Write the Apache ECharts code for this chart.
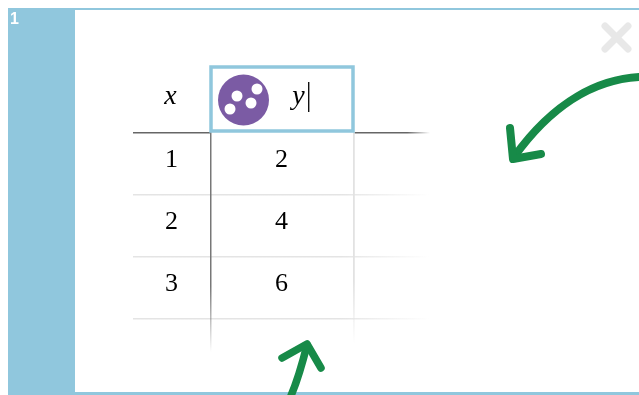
<!DOCTYPE html>
<html><head><meta charset="utf-8">
<style>html,body{margin:0;padding:0;background:#fff}#c{width:639px;height:395px}</style>
<script src="https://cdn.jsdelivr.net/npm/echarts@6/dist/echarts.min.js"></script>
</head><body><div id="c"></div>
<script>
const rows = ['header', 'r1', 'r2', 'r3'];
const columnX = ['x', 1, 2, 3];
const columnY = ['y', 2, 4, 6];
const panelNumber = '1';

const BLUE = '#90c7dd', GREEN = '#178a48', PURPLE = '#7b5ba4';
const FONT = '"Liberation Serif", serif';

function fade(axisX, from, to) {
  const g = axisX ? [1, 0] : [0, 1];
  return new echarts.graphic.LinearGradient(0, 0, g[0], g[1], [
    { offset: 0, color: from }, { offset: 0.7, color: from }, { offset: 1, color: to }]);
}
function rect(x, y, w, h, fill, z) { return { type: 'rect', shape: { x, y, width: w, height: h }, style: { fill }, z: z || 1 }; }
function stroke(pathShape, type, color, width, z) {
  return { type, shape: pathShape, style: { stroke: color, lineWidth: width, lineCap: 'round', lineJoin: 'round', fill: null }, z: z || 5 };
}
function dot(cx, cy) { return { type: 'circle', shape: { cx, cy, r: 5.5 }, style: { fill: '#fff' }, z: 7 }; }

const graphics = [
  rect(8, 8, 631, 387, BLUE, 0),
  rect(75, 10, 564, 382, '#fff', 0),
  { type: 'text', x: 10, y: 12, style: { text: panelNumber, fill: '#fff', font: 'bold 16px "Liberation Sans", Arial' }, z: 2 },
  // close cross
  stroke({ x1: 605, y1: 26, x2: 628, y2: 49 }, 'line', '#e8e8e8', 7, 2),
  stroke({ x1: 628, y1: 26, x2: 605, y2: 49 }, 'line', '#e8e8e8', 7, 2),
  // table rules
  rect(133, 132, 77, 1.5, '#666', 1),
  rect(354, 132, 76, 1.5, fade(true, '#666', 'rgba(102,102,102,0)'), 1),
  rect(133, 194, 297, 1.5, fade(true, '#e4e4e4', 'rgba(228,228,228,0)'), 1),
  rect(133, 256, 297, 1.5, fade(true, '#e4e4e4', 'rgba(228,228,228,0)'), 1),
  rect(133, 318, 297, 1.5, fade(true, '#e4e4e4', 'rgba(228,228,228,0)'), 1),
  rect(210, 132, 1.5, 220, fade(false, '#777', 'rgba(119,119,119,0)'), 2),
  rect(353, 132, 1.8, 212, fade(false, '#e2e2e2', 'rgba(226,226,226,0)'), 2),
  // header cell box
  { type: 'rect', shape: { x: 211, y: 67, width: 142, height: 64 }, style: { fill: '#fff', stroke: BLUE, lineWidth: 3.5 }, z: 3 },
  // button
  { type: 'circle', shape: { cx: 243.5, cy: 100, r: 25.5 }, style: { fill: PURPLE }, z: 6 },
  dot(237, 96), dot(257, 89), dot(251, 103), dot(230, 109),
  // caret
  rect(308, 82, 1.4, 30, '#111', 6),
  // arrows
  stroke({ x1: 640, y1: 77, cpx1: 600, cpy1: 79, cpx2: 555, cpy2: 100, x2: 514, y2: 157 }, 'bezierCurve', GREEN, 8),
  stroke({ points: [[510, 128], [513, 159], [541, 154]] }, 'polyline', GREEN, 8),
  stroke({ x1: 307, y1: 345, cpx1: 302, cpy1: 365, cpx2: 298, cpy2: 380, x2: 290, y2: 398 }, 'bezierCurve', GREEN, 7.5),
  stroke({ points: [[282, 358], [307, 344], [321, 368]] }, 'polyline', GREEN, 7.5)
];

function hiddenX(i) { return { type: 'value', gridIndex: i, min: -1, max: 1, show: false }; }
function hiddenY(i) { return { type: 'category', gridIndex: i, data: rows, inverse: true, show: false }; }
function column(i, values, headerOffset) {
  return {
    type: 'scatter', xAxisIndex: i, yAxisIndex: i, symbolSize: 0, silent: true, z: 10,
    itemStyle: { opacity: 1 },
    data: values.map((v, k) => ({
      value: [0, rows[k]], name: String(v),
      label: k === 0 ? { fontStyle: 'italic', fontSize: 28, offset: [headerOffset, 0] } : {}
    })),
    label: {
      show: true, position: 'inside', formatter: p => p.name, offset: [0, 1],
      color: '#000', fontFamily: FONT, fontSize: 26
    }
  };
}

const chart = echarts.init(document.getElementById('c'), null, { renderer: 'canvas' });
chart.setOption({
  animation: false,
  backgroundColor: '#fff',
  grid: [
    { left: 133, top: 66, width: 77, height: 248 },
    { left: 210, top: 66, width: 143, height: 248 }
  ],
  xAxis: [hiddenX(0), hiddenX(1)],
  yAxis: [hiddenY(0), hiddenY(1)],
  graphic: graphics,
  series: [column(0, columnX, -1), column(1, columnY, 17)]
});
</script></body></html>
